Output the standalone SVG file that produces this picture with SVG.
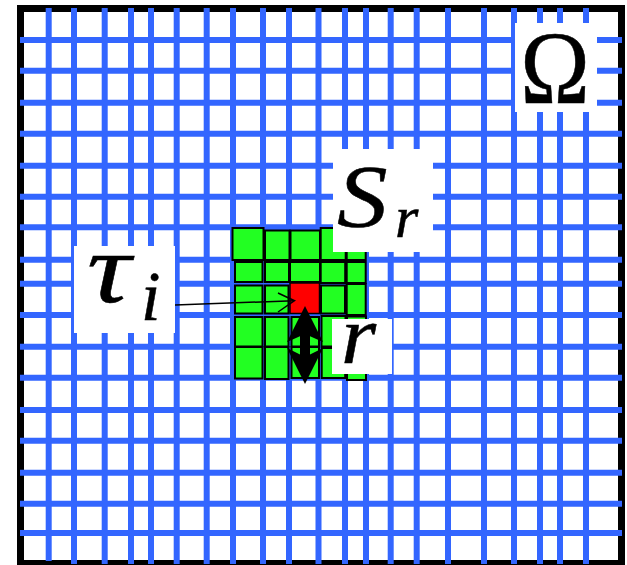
<svg xmlns="http://www.w3.org/2000/svg" width="627" height="565" viewBox="0 0 627 565">
<style>
.g line{stroke:#3366ff;stroke-width:6}
.cell{fill:#22ff22;stroke:#000;stroke-width:2}
.red{fill:#ff0000;stroke:#000;stroke-width:1.5}
.box{fill:#fff}
.t{font-family:"Liberation Serif","DejaVu Serif",serif;fill:#000;stroke:#000;stroke-width:0.5}
.it{font-style:italic}
</style>
<rect width="627" height="565" fill="#fff"/>
<g id="frame"><rect x="20.5" y="8.5" width="601" height="555" fill="none" stroke="#000" stroke-width="7"/></g>
<g id="grid" class="g">
<line x1="48.7" y1="8" x2="48.7" y2="561"/>
<line x1="74" y1="8" x2="74" y2="564"/>
<line x1="104.7" y1="8" x2="104.7" y2="564"/>
<line x1="131" y1="8" x2="131" y2="564"/>
<line x1="151" y1="8" x2="151" y2="564"/>
<line x1="176.7" y1="8" x2="176.7" y2="564"/>
<line x1="206.7" y1="8" x2="206.7" y2="564"/>
<line x1="233" y1="8" x2="233" y2="564"/>
<line x1="263" y1="8" x2="263" y2="564"/>
<line x1="289" y1="8" x2="289" y2="564"/>
<line x1="318.5" y1="8" x2="318.5" y2="564"/>
<line x1="345" y1="8" x2="345" y2="564"/>
<line x1="366" y1="8" x2="366" y2="564"/>
<line x1="390.7" y1="8" x2="390.7" y2="564"/>
<line x1="416.7" y1="8" x2="416.7" y2="564"/>
<line x1="448" y1="8" x2="448" y2="564"/>
<line x1="484" y1="8" x2="484" y2="564"/>
<line x1="514" y1="8" x2="514" y2="564"/>
<line x1="540" y1="8" x2="540" y2="564"/>
<line x1="560" y1="8" x2="560" y2="564"/>
<line x1="586" y1="8" x2="586" y2="564"/>
<line x1="20" y1="40" x2="622" y2="40"/>
<line x1="20" y1="70.7" x2="622" y2="70.7"/>
<line x1="20" y1="102.7" x2="622" y2="102.7"/>
<line x1="20" y1="133.7" x2="622" y2="133.7"/>
<line x1="20" y1="165.7" x2="622" y2="165.7"/>
<line x1="20" y1="196.7" x2="622" y2="196.7"/>
<line x1="20" y1="227.3" x2="622" y2="227.3"/>
<line x1="20" y1="259.7" x2="622" y2="259.7"/>
<line x1="20" y1="283.7" x2="622" y2="283.7"/>
<line x1="20" y1="315" x2="622" y2="315"/>
<line x1="20" y1="346.7" x2="622" y2="346.7"/>
<line x1="20" y1="377.7" x2="622" y2="377.7"/>
<line x1="20" y1="410" x2="622" y2="410"/>
<line x1="20" y1="440.7" x2="622" y2="440.7"/>
<line x1="20" y1="472.7" x2="622" y2="472.7"/>
<line x1="20" y1="503.7" x2="622" y2="503.7"/>
<line x1="20" y1="533" x2="622" y2="533"/>
</g>
<g id="cells">
<rect class="cell" x="232.5" y="228" width="31" height="32"/>
<rect class="cell" x="265" y="230.5" width="24.5" height="29.5"/>
<rect class="cell" x="290.5" y="230.5" width="29.5" height="29.5"/>
<rect class="cell" x="320.7" y="228" width="25" height="32"/>
<rect class="cell" x="346.7" y="231" width="19" height="29"/>
<rect class="cell" x="235" y="262" width="27.5" height="20"/>
<rect class="cell" x="265" y="262" width="24" height="20"/>
<rect class="cell" x="290" y="262" width="30" height="20"/>
<rect class="cell" x="320.7" y="262" width="24.5" height="21"/>
<rect class="cell" x="346.7" y="262" width="19" height="21"/>
<rect class="cell" x="235" y="285.5" width="27.5" height="28"/>
<rect class="cell" x="265" y="285.5" width="23.5" height="28"/>
<rect class="cell" x="321" y="285.5" width="24" height="28"/>
<rect class="cell" x="346.7" y="284" width="19" height="31"/>
<rect class="cell" x="235" y="317" width="27.5" height="29.5"/>
<rect class="cell" x="265" y="317" width="23.5" height="29.5"/>
<rect class="cell" x="291.5" y="317" width="27.5" height="29.5"/>
<rect class="cell" x="321.5" y="316" width="24" height="30.5"/>
<rect class="cell" x="347" y="316.5" width="19" height="30"/>
<rect class="cell" x="235" y="347" width="27.5" height="31.5"/>
<rect class="cell" x="265" y="347" width="23.5" height="32"/>
<rect class="cell" x="291.5" y="347" width="27.5" height="31"/>
<rect class="cell" x="321.7" y="348" width="23.5" height="30"/>
<rect class="cell" x="347" y="348" width="19" height="32"/>
</g>
<g id="cell-i"><rect class="red" x="290" y="283" width="29.5" height="30.5"/></g>
<g id="label-omega">
<rect class="box" x="515" y="23" width="82" height="89"/>
<text class="t" x="555" y="103" font-size="104" text-anchor="middle" transform="translate(555 0) scale(0.9 1) translate(-555 0)">Ω</text>
</g>
<g id="label-Sr">
<rect class="box" x="333" y="149" width="100" height="103"/>
<text class="t it" x="337" y="226" font-size="88" transform="translate(337 0) scale(1.15 1) translate(-337 0)">S</text>
<text class="t it" x="395" y="237" font-size="60">r</text>
</g>
<g id="label-tau">
<rect class="box" x="74" y="246" width="101" height="87"/>
<text class="t it" x="87" y="302" font-size="100" transform="translate(87 0) scale(1.22 1) translate(-87 0)">τ</text>
<text class="t it" x="141" y="320" font-size="70">i</text>
</g>
<g id="label-r">
<rect class="box" x="332" y="319" width="60" height="55"/>
<text class="t it" x="341" y="363" font-size="82" transform="translate(341 0) scale(1.1 1) translate(-341 0)">r</text>
</g>
<g id="connectors">
<line x1="175" y1="305" x2="294" y2="300.7" stroke="#000" stroke-width="1.5"/>
<polyline points="278,293 294.5,300.7 278,312" fill="none" stroke="#000" stroke-width="1.5"/>
<polygon points="305,306 323,342 305,334 287,342" fill="#000"/>
<rect x="300" y="333" width="10" height="25" fill="#000"/>
<polygon points="305,384 323,348 305,357 287,348" fill="#000"/>
</g>
</svg>
